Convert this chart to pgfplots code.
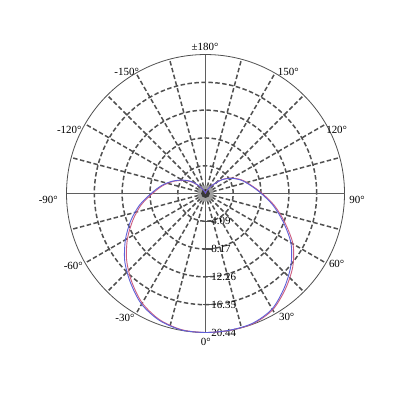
\documentclass[border=0pt]{standalone}
\usepackage{pgfplots}
\pgfplotsset{compat=1.18}
\usepackage{pgfplotstable}
\usepackage{fontspec}
\setmainfont{Liberation Serif}
\definecolor{gridc}{RGB}{80,80,80}
\definecolor{axc}{RGB}{95,95,95}
\definecolor{cblue}{RGB}{95,95,215}
\definecolor{cred}{RGB}{205,95,130}
\pgfplotstableread{
t b r
-180 0 0
-165 0.15 0.15
-150 0.6 0.6
-140 1.45 1.4
-130 2.75 2.65
-120 3.95 3.85
-110 5.25 5.15
-100 6.6 6.45
-90 8.0 7.8
-80 9.85 9.6
-70 11.7 11.35
-60 13.6 13.25
-50 15.5 15.15
-40 17.15 16.9
-30 18.8 18.6
-20 19.85 19.75
-10 20.38 20.33
0 20.44 20.44
10 20.42 20.44
20 20.3 20.38
30 19.6 19.75
40 18.05 18.3
50 16.4 16.75
60 14.5 14.85
70 12.15 12.4
80 10.1 10.3
90 8.2 8.35
100 6.75 6.85
110 5.65 5.75
120 4.45 4.55
130 3.15 3.2
140 1.65 1.65
150 0.8 0.8
165 0.2 0.2
180 0 0
}\curvedata
\begin{document}
\begin{tikzpicture}
\begin{axis}[
  scale only axis, width=400bp, height=400bp,
  xmin=-30.22, xmax=28.60, ymin=-30.37, ymax=28.46,
  hide axis, clip=false,
]
\path[fill=white] (axis cs:-30.22,-30.37) rectangle (axis cs:28.60,28.46);
% dashed circles
\pgfplotsinvokeforeach{4.09,8.17,12.26,16.35}{
  \draw[gridc, line width=1.5pt, dash pattern=on 4.5pt off 2.5pt] (axis cs:0,0) circle[radius=#1];
}
% dashed spokes
\pgfplotsinvokeforeach{15,30,45,60,75,105,120,135,150,165,195,210,225,240,255,285,300,315,330,345}{
  \draw[gridc, line width=1.5pt, dash pattern=on 4.5pt off 2.5pt] (axis cs:0,0) -- (axis cs:{20.44*cos(#1)},{20.44*sin(#1)});
}
% outer circle
\draw[gridc, line width=0.8pt] (axis cs:0,0) circle[radius=20.44];
% solid axes
\draw[axc, line width=1.5pt] (axis cs:-20.44,0) -- (axis cs:20.44,0);
\draw[axc, line width=1.5pt] (axis cs:0,-20.44) -- (axis cs:0,20.44);
% centre
\fill[gray!75] (axis cs:0,0) circle[radius=1.2];
\fill[gridc!70!black] (axis cs:0,0) circle[radius=0.65];
% radial ticks and labels
\pgfplotsinvokeforeach{4.09,8.17,12.26,16.35,20.44}{
  \draw[gridc, line width=1.2pt] (axis cs:-0.4,-#1) -- (axis cs:0.9,-#1);
  \node[anchor=west, inner sep=0pt, font=\fontsize{11}{13}\selectfont] at (axis cs:0.85,-#1) {#1};
}
% angle labels
\begin{scope}[every node/.style={font=\fontsize{11}{13}\selectfont, inner sep=0pt}]
\node at (axis cs:-0.07,21.54) {±180°};
\node at (axis cs:-11.59,17.91) {-150°};
\node at (axis cs:12.18,17.91) {150°};
\node at (axis cs:-20.03,9.34) {-120°};
\node at (axis cs:19.29,9.34) {120°};
\node at (axis cs:-23.12,-1.0) {-90°};
\node at (axis cs:22.28,-1.0) {90°};
\node at (axis cs:-19.44,-10.6) {-60°};
\node at (axis cs:19.29,-10.3) {60°};
\node at (axis cs:-11.84,-18.35) {-30°};
\node at (axis cs:11.94,-18.12) {30°};
\node at (axis cs:0.03,-21.79) {0°};
\end{scope}
% curves
\addplot[cred, smooth, line width=0.9pt] table[x expr={\thisrow{r}*sin(\thisrow{t})}, y expr={-\thisrow{r}*cos(\thisrow{t})}] {\curvedata};
\addplot[cblue, smooth, line width=0.9pt] table[x expr={\thisrow{b}*sin(\thisrow{t})}, y expr={-\thisrow{b}*cos(\thisrow{t})}] {\curvedata};
\end{axis}
\end{tikzpicture}
\end{document}
